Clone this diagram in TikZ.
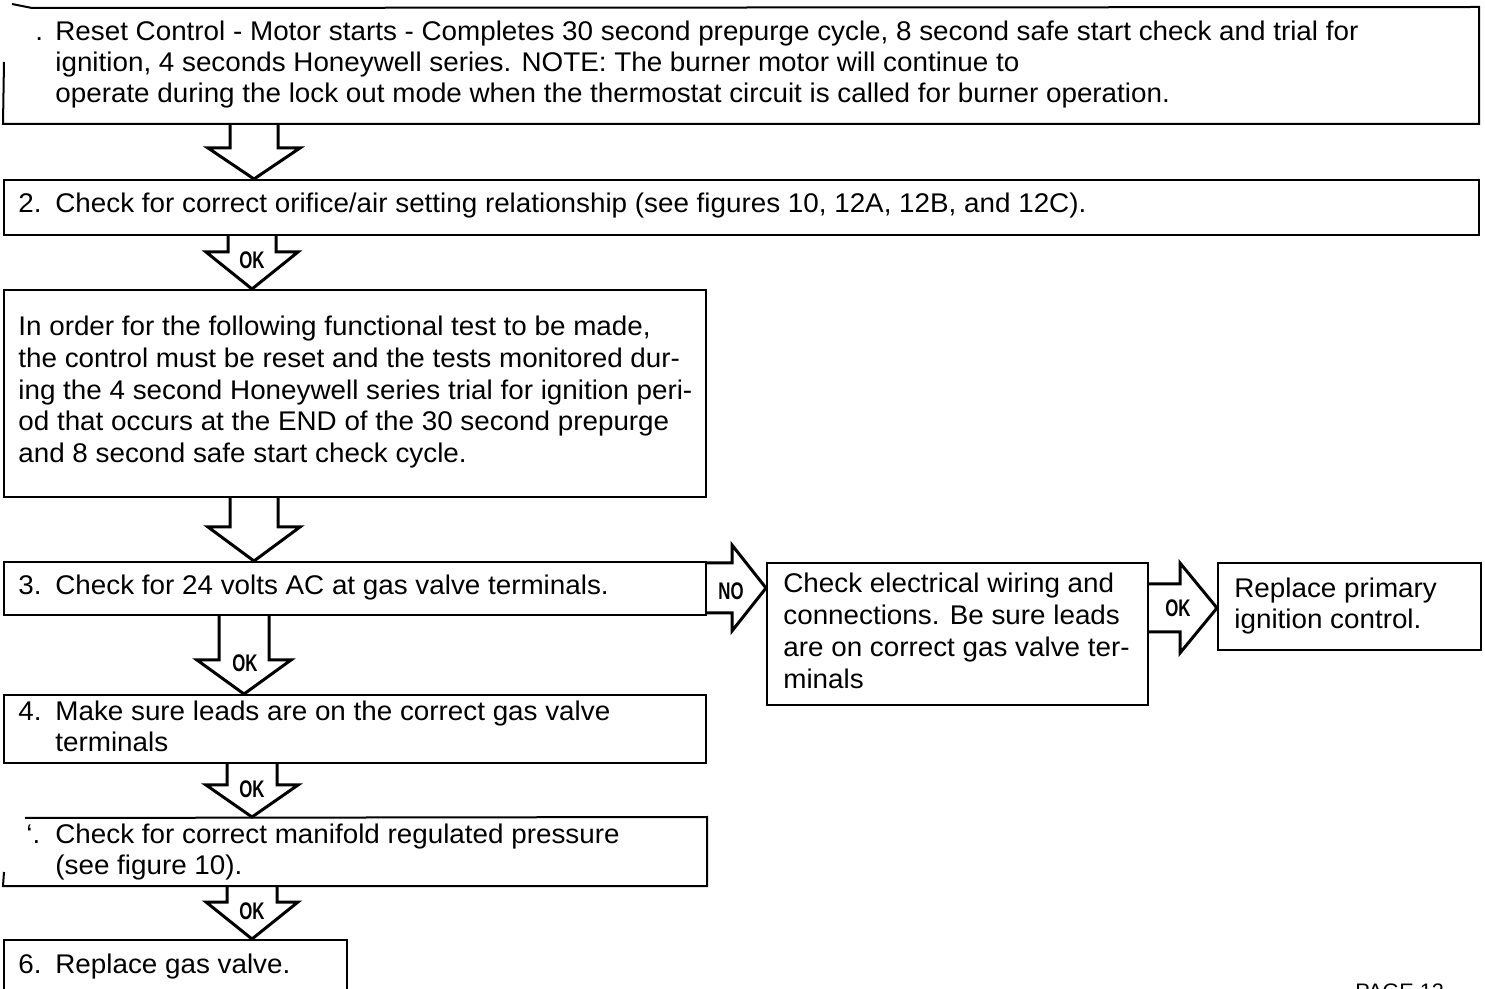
\documentclass[tikz,border=0pt]{standalone}
\usepackage{fontspec}
\setmainfont{Liberation Sans}[FakeStretch=1.03]
\usepackage{graphicx}
\usetikzlibrary{fit}
\tikzset{
  box/.style={draw, line width=1pt, inner sep=0pt},
  edge/.style={line width=1pt},
  txt/.style={anchor=base west, inner sep=0pt, font=\fontsize{13.5}{16}\selectfont},
  flow/.style={draw, line width=1.5pt, line join=miter},
  lbl/.style={inner sep=0pt, font=\fontsize{12}{12}\selectfont\bfseries},
}
\newcommand\cond[1]{\scalebox{0.68}[1]{#1}}
% #1 from, #2 to, #3 centre x, #4 head base y, #5 shaft half width, #6 head half width
\newcommand\flowdown[6]{%
  \draw[flow] (#3-#5,0 |- #1.south) -- (#3-#5,#4) -- (#3-#6,#4) -- (#3,0 |- #2.north)
     -- (#3+#6,#4) -- (#3+#5,#4) -- (#3+#5,0 |- #1.south);}
% #1 from, #2 to, #3 centre y, #4 head base x, #5 shaft half, #6 head half
\newcommand\flowright[6]{%
  \draw[flow] (#1.east |- 0,#3-#5) -- (#4,#3-#5) -- (#4,#3-#6) -- (#2.west |- 0,#3)
     -- (#4,#3+#6) -- (#4,#3+#5) -- (#1.east |- 0,#3+#5);}
\begin{document}
\begin{tikzpicture}[x=0.5pt,y=-0.5pt]
\useasboundingbox (0,0) rectangle (1485,989);
% boxes
\node[box, draw=none, fit={(4,8) (1478,123)}] (b1) {};
\draw[edge] (12,4) -- (32,8) -- (b1.north east) -- (b1.south east) -- (b1.south west) -- (4,62);
\node[box, fit={(4,180) (1479,235)}] (b2) {};
\node[box, fit={(4,290) (706,497)}] (b3) {};
\node[box, fit={(4,562) (706,615)}] (b4) {};
\node[box, fit={(767,563) (1148,705)}] (be) {};
\node[box, fit={(1218,563) (1481,650)}] (bf) {};
\node[box, fit={(4,695) (706,763)}] (b5) {};
\node[box, draw=none, fit={(4,818) (706,885)}] (b6) {};
\draw[edge] (25,818) -- (b6.north east) -- (b6.south east) -- (b6.south west) -- (4,872);
\node[box, fit={(4,940) (347,1010)}] (b7) {};
% texts
\node[txt] (t1n) at (35,41) {.};
\node[txt] (t1a) at (55,41) {Reset Control - Motor starts - Completes 30 second prepurge cycle, 8 second safe start check and trial for};
\node[txt] (t1b) at (55,72) {ignition, 4 seconds Honeywell series. NOTE: The burner motor will continue to};
\node[txt] (t1c) at (55,103) {operate during the lock out mode when the thermostat circuit is called for burner operation.};
\node[txt] (t2n) at (18,213) {2.};
\node[txt] (t2) at (55,213) {Check for correct orifice/air setting relationship (see figures 10, 12A, 12B, and 12C).};
\node[txt] (t3a) at (18,336) {In order for the following functional test to be made,};
\node[txt] (t3b) at (18,368) {the control must be reset and the tests monitored dur-};
\node[txt] (t3c) at (18,400) {ing the 4 second Honeywell series trial for ignition peri-};
\node[txt] (t3d) at (18,431) {od that occurs at the END of the 30 second prepurge};
\node[txt] (t3e) at (18,463) {and 8 second safe start check cycle.};
\node[txt] (t4n) at (18,595) {3.};
\node[txt] (t4) at (55,595) {Check for 24 volts AC at gas valve terminals.};
\node[txt] (tea) at (783,593) {Check electrical wiring and};
\node[txt] (teb) at (783,625) {connections. Be sure leads};
\node[txt] (tec) at (783,657) {are on correct gas valve ter-};
\node[txt] (ted) at (783,689) {minals};
\node[txt] (tfa) at (1234,598) {Replace primary};
\node[txt] (tfb) at (1234,629) {ignition control.};
\node[txt] (t5n) at (18,720) {4.};
\node[txt] (t5a) at (55,720) {Make sure leads are on the correct gas valve};
\node[txt] (t5b) at (55,752) {terminals};
\node[txt] (t6n) at (26,843) {\textquoteleft.};
\node[txt] (t6a) at (55,843) {Check for correct manifold regulated pressure};
\node[txt] (t6b) at (55,874) {(see figure 10).};
\node[txt] (t7n) at (18,973) {6.};
\node[txt] (t7) at (55,973) {Replace gas valve.};
\node[txt, font=\fontsize{10.5}{12}\selectfont] (pg) at (1355,998) {PAGE 12};
% flow arrows
\flowdown{b1}{b2}{254}{148}{24}{46}
\flowdown{b2}{b3}{252}{252}{24}{46}
\node[lbl] (ok1) at (252,260) {\cond{OK}};
\flowdown{b3}{b4}{254}{527}{24}{46}
\flowdown{b4}{b5}{244}{660}{25}{47}
\node[lbl] (ok2) at (245,663) {\cond{OK}};
\flowdown{b5}{b6}{252}{785}{25}{46}
\node[lbl] (ok3) at (252,789) {\cond{OK}};
\flowdown{b6}{b7}{252}{902}{25}{46}
\node[lbl] (ok4) at (252,911) {\cond{OK}};
\flowright{b4}{be}{588}{732}{25}{43}
\node[lbl] (no1) at (731,591) {\cond{NO}};
\flowright{be}{bf}{608}{1180}{24}{45}
\node[lbl] (ok5) at (1178,608) {\cond{OK}};
\end{tikzpicture}
\end{document}
